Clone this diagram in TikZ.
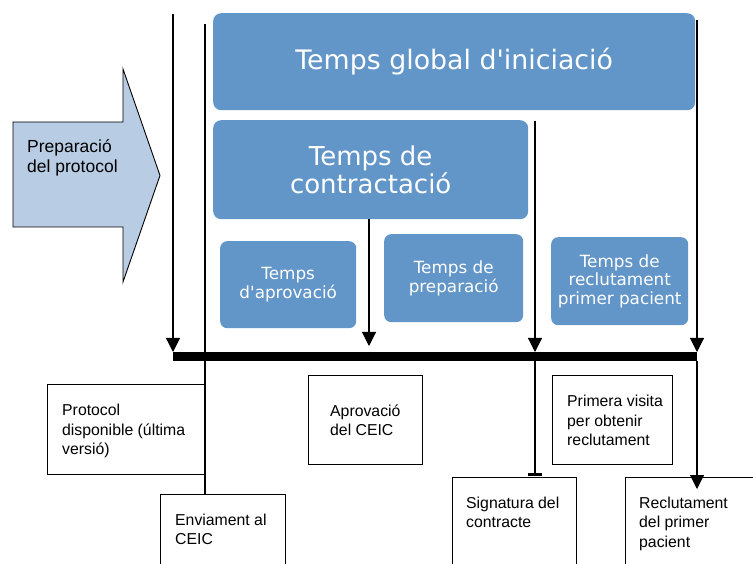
\documentclass[tikz,border=0pt]{standalone}
\usepackage{fontspec}
\newfontfamily\dejavu{DejaVu Sans}
\newfontfamily\libsans{Liberation Sans}
\usetikzlibrary{arrows.meta,calc}
\definecolor{boxblue}{RGB}{98,150,201}
\definecolor{arrowblue}{RGB}{184,204,228}
\tikzset{
  bluebox/.style={fill=boxblue, draw=none, rounded corners=8pt, text=white, align=center, inner sep=0pt, anchor=north west},
  bigtxt/.style={font=\dejavu\fontsize{26}{28.5}\selectfont},
  smalltxt/.style={font=\dejavu\fontsize{16.8}{18.5}\selectfont},
  botbox/.style={draw=black, line width=1pt, fill=white, inner sep=0pt, anchor=north west},
  bottxt/.style={font=\libsans\fontsize{15.8}{19.3}\selectfont, align=left, inner sep=0pt, text=black},
  arr/.style={-{Triangle[width=14pt,length=14pt]}},
  tickend/.style={-{Bar[width=14pt,line width=2.5pt]}},
  conn/.style={line width=1.1pt, draw=black}
}
\begin{document}
\begin{tikzpicture}[x=1pt,y=-1pt]
\useasboundingbox (0,0) rectangle (753,564);
\clip (0,0) rectangle (753,564);

% big arrow
\draw[fill=arrowblue, line width=0.9pt] (13,122) -- (123,122) -- (123,69) -- (160,175.5) -- (123,282) -- (123,227) -- (13,227) -- cycle;
\node[font=\libsans\fontsize{17.5}{20}\selectfont, align=left, inner sep=0pt, anchor=west] (prep) at (27,158) {Preparació\\del protocol};

% blue boxes
\node[bluebox, font=\dejavu\fontsize{26.8}{30}\selectfont, minimum width=482pt, minimum height=97pt] (global) at (213,13) {Temps global d'iniciació};
\node[bluebox, bigtxt, minimum width=315pt, minimum height=99pt] (contr) at (213,120) {Temps de\\contractació};
\node[bluebox, smalltxt, rounded corners=7pt, minimum width=136pt, minimum height=87pt] (aprovT) at (220,241) {Temps\\d'aprovació};
\node[bluebox, smalltxt, rounded corners=7pt, minimum width=139pt, minimum height=88pt] (prepT) at (384,234) {Temps de\\preparació};
\node[bluebox, smalltxt, rounded corners=7pt, minimum width=137pt, minimum height=88pt] (reclT) at (551,237) {Temps de\\reclutament\\primer pacient};

% bottom boxes
\node[botbox, minimum width=157pt, minimum height=90pt] (proto) at (47,384) {};
\node[botbox, minimum width=125pt, minimum height=100pt] (env) at (160,494) {};
\node[botbox, minimum width=114pt, minimum height=89pt] (aprov) at (308,375) {};
\node[botbox, minimum width=120pt, minimum height=89pt] (prim) at (552,375) {};
\node[botbox, minimum width=124pt, minimum height=100pt] (sig) at (452,477) {};
\node[botbox, minimum width=140pt, minimum height=100pt] (recl) at (625,477) {};

\node[bottxt, anchor=west] (protoL) at ([xshift=15pt,yshift=-1.5pt]proto.west) {Protocol\\disponible (última\\versió)};
\node[bottxt, anchor=north west] (envL) at ([xshift=15pt,yshift=-20pt]env.north west) {Enviament al\\CEIC};
\node[bottxt, anchor=west] (aprovL) at ([xshift=22pt,yshift=-0.5pt]aprov.west) {Aprovació\\del CEIC};
\node[bottxt, anchor=west] (primL) at ([xshift=15pt,yshift=-0.5pt]prim.west) {Primera visita\\per obtenir\\reclutament};
\node[bottxt, anchor=north west] (sigL) at ([xshift=14pt,yshift=-20pt]sig.north west) {Signatura del\\contracte};
\node[bottxt, anchor=north west] (reclL) at ([xshift=14pt,yshift=-20pt]recl.north west) {Reclutament\\del primer\\pacient};

% timeline bar
\node[fill=black, inner sep=0pt, minimum width=524pt, minimum height=9pt, anchor=north west] (bar) at (173,352) {};

% connectors
\coordinate (t1) at (173,14);
\coordinate (t2) at (205,24);
\coordinate (t3) at (697,20);
\coordinate (t4) at (535,121);
\coordinate (e5) at (369,346);
\coordinate (e3) at (697,489);

\draw[conn, arr] (t1) -- (t1 |- bar.north);
\draw[conn] (t2) -- (t2 |- env.north);
\draw[conn, arr] (t3) -- (t3 |- bar.north);
\draw[conn, arr] (t3 |- bar.south) -- (e3);
\draw[conn, arr] (t4) -- (t4 |- bar.north);
\draw[conn, tickend, shorten >=1.5pt] (t4 |- bar.south) -- (t4 |- sig.north);
\draw[conn, arr] (contr.south -| e5) -- (e5);
\end{tikzpicture}
\end{document}
